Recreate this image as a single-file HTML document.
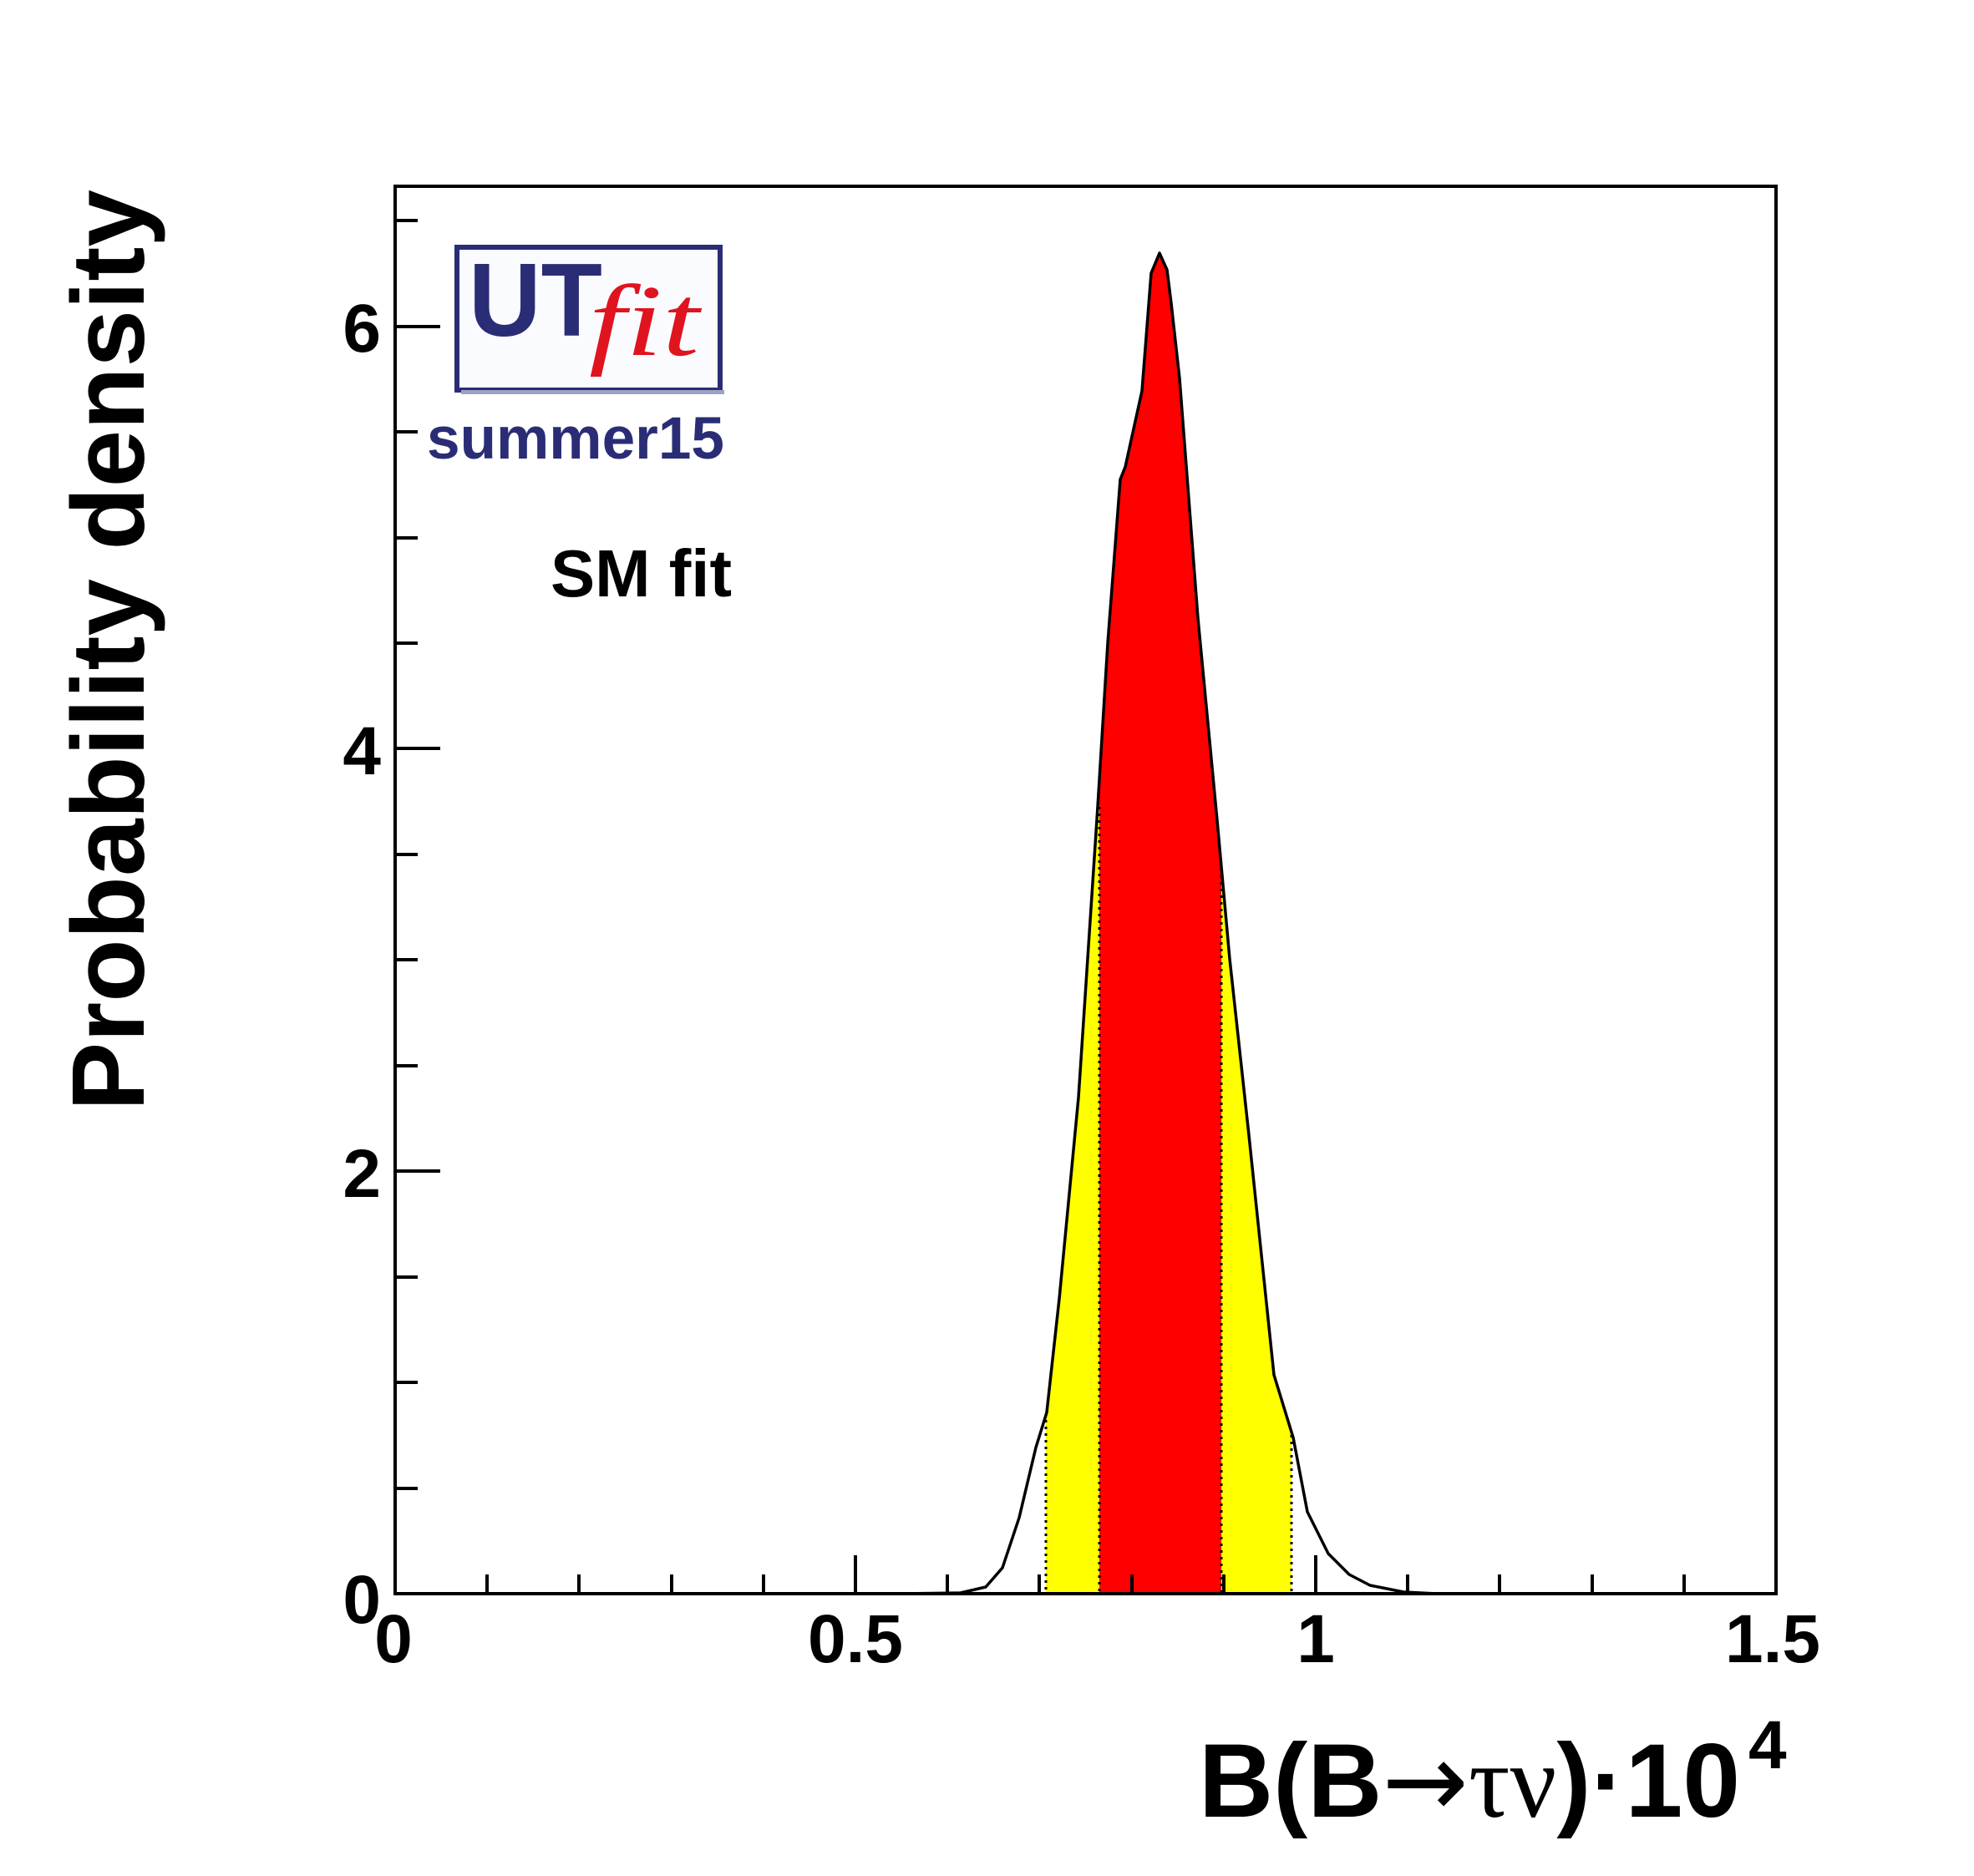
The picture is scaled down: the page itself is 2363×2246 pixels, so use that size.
<!DOCTYPE html>
<html><head><meta charset="utf-8"><style>
html,body{margin:0;padding:0;background:#fff;}
svg{display:block;}
text{font-family:"Liberation Sans",Arial,sans-serif;font-weight:bold;}
</style></head><body>
<svg width="2363" height="2246" viewBox="0 0 2363 2246" xmlns="http://www.w3.org/2000/svg">
<defs>
<clipPath id="cc"><polygon points="1079,1908 1150,1907 1180,1900 1200,1877 1220,1817 1240,1733 1253,1691 1268,1555 1291,1314 1314,966 1326,770 1341,574 1347,559 1367,468 1378,327 1388,303 1397,323 1402,363 1412,453 1434,740 1457,982 1472,1148 1495,1359 1525,1646 1548,1721 1565,1810 1590,1860 1615,1885 1640,1898 1680,1906 1720,1908"/></clipPath>
</defs>
<g clip-path="url(#cc)">
<rect x="1252" y="200" width="294" height="1708" fill="#ffff00"/>
<rect x="1316" y="200" width="146" height="1708" fill="#ff0000"/>
</g>
<g stroke="#000" stroke-width="3" stroke-dasharray="3,5">
<line x1="1252" y1="1700" x2="1252" y2="1908"/>
<line x1="1316" y1="966" x2="1316" y2="1908"/>
<line x1="1462" y1="1040" x2="1462" y2="1908"/>
<line x1="1546" y1="1718" x2="1546" y2="1908"/>
</g>
<polyline fill="none" stroke="#000" stroke-width="3.5" stroke-linejoin="round" points="473,1908 1079,1908 1150,1907 1180,1900 1200,1877 1220,1817 1240,1733 1253,1691 1268,1555 1291,1314 1314,966 1326,770 1341,574 1347,559 1367,468 1378,327 1388,303 1397,323 1402,363 1412,453 1434,740 1457,982 1472,1148 1495,1359 1525,1646 1548,1721 1565,1810 1590,1860 1615,1885 1640,1898 1680,1906 1720,1908 2126,1908"/>
<rect x="473" y="223" width="1653" height="1685" fill="none" stroke="#000" stroke-width="4"/>
<g stroke="#000" stroke-width="4">
<line x1="473" y1="1908" x2="473" y2="1862"/><line x1="583" y1="1908" x2="583" y2="1885"/><line x1="693" y1="1908" x2="693" y2="1885"/><line x1="804" y1="1908" x2="804" y2="1885"/><line x1="914" y1="1908" x2="914" y2="1885"/>
<line x1="1024" y1="1908" x2="1024" y2="1862"/><line x1="1134" y1="1908" x2="1134" y2="1885"/><line x1="1244" y1="1908" x2="1244" y2="1885"/><line x1="1355" y1="1908" x2="1355" y2="1885"/><line x1="1465" y1="1908" x2="1465" y2="1885"/>
<line x1="1575" y1="1908" x2="1575" y2="1862"/><line x1="1685" y1="1908" x2="1685" y2="1885"/><line x1="1795" y1="1908" x2="1795" y2="1885"/><line x1="1906" y1="1908" x2="1906" y2="1885"/><line x1="2016" y1="1908" x2="2016" y2="1885"/>
<line x1="473" y1="1908" x2="527" y2="1908"/><line x1="473" y1="1782" x2="500" y2="1782"/><line x1="473" y1="1655" x2="500" y2="1655"/><line x1="473" y1="1529" x2="500" y2="1529"/>
<line x1="473" y1="1402" x2="527" y2="1402"/><line x1="473" y1="1276" x2="500" y2="1276"/><line x1="473" y1="1149" x2="500" y2="1149"/><line x1="473" y1="1023" x2="500" y2="1023"/>
<line x1="473" y1="896" x2="527" y2="896"/><line x1="473" y1="770" x2="500" y2="770"/><line x1="473" y1="644" x2="500" y2="644"/><line x1="473" y1="517" x2="500" y2="517"/>
<line x1="473" y1="391" x2="527" y2="391"/><line x1="473" y1="264" x2="500" y2="264"/>
</g>
<g font-size="82" text-anchor="middle">
<text x="471" y="1990">0</text><text x="1024" y="1990">0.5</text><text x="1575" y="1990">1</text><text x="2122" y="1990">1.5</text>
</g>
<g font-size="82" text-anchor="end">
<text x="456" y="1943">0</text><text x="456" y="1433">2</text><text x="456" y="927">4</text><text x="456" y="421">6</text>
</g>
<text transform="translate(172,1330) rotate(-90)" font-size="123" textLength="1103" lengthAdjust="spacingAndGlyphs">Probability density</text>
<text x="1435" y="2175" font-size="125" textLength="648" lengthAdjust="spacingAndGlyphs">B(B<tspan style="font-family:'DejaVu Sans',sans-serif;font-weight:normal">→</tspan><tspan style="font-family:'Liberation Serif',serif;font-weight:normal">τν</tspan>)·10</text>
<text x="2093" y="2117" font-size="82">4</text>
<rect x="547" y="296" width="315" height="171" fill="#fafbff" stroke="#2a2d75" stroke-width="6"/>
<rect x="552" y="467" width="315" height="5" fill="#9fa1c4"/>
<text x="561" y="402" font-size="124" fill="#2a2d75" textLength="160" lengthAdjust="spacingAndGlyphs">UT</text>
<text x="705" y="425" font-size="122" fill="#e0141e" style="font-family:'Liberation Serif',serif;font-style:italic;font-weight:normal" textLength="132" lengthAdjust="spacingAndGlyphs">fit</text>
<text x="511" y="549" font-size="71" fill="#2a2d75" textLength="356" lengthAdjust="spacingAndGlyphs">summer15</text>
<text x="659" y="714" font-size="80" textLength="217" lengthAdjust="spacingAndGlyphs">SM fit</text>
</svg>
</body></html>
